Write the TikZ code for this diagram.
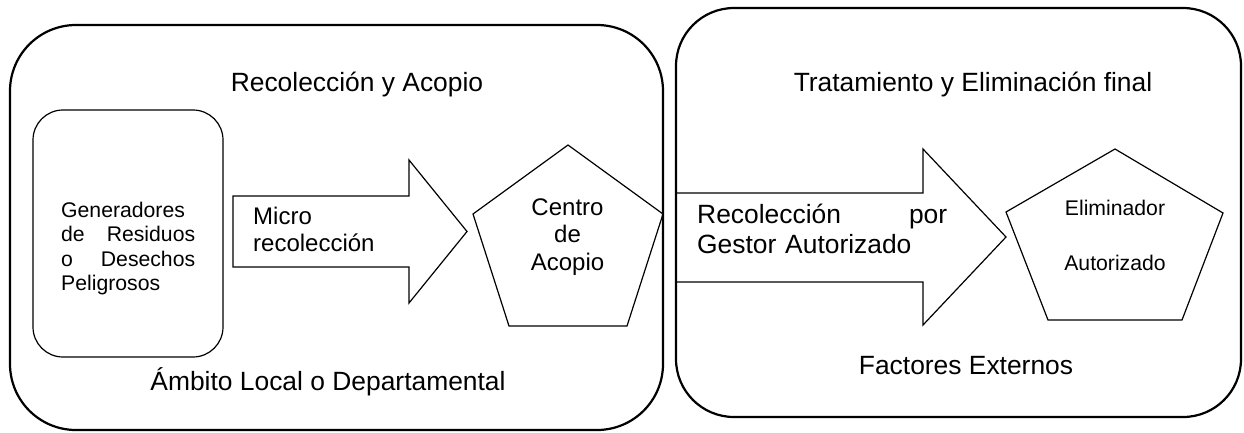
\documentclass[tikz,border=0pt]{standalone}
\usepackage{fontspec}
\setmainfont{Liberation Sans}
\begin{document}
\begin{tikzpicture}[x=1pt,y=-1pt,
  outerbox/.style={draw, line width=2.2pt, inner sep=0pt, outer sep=0pt},
  shapeline/.style={draw, line width=1.2pt, line join=miter},
  bigtxt/.style={inner sep=0pt, anchor=base, font=\fontsize{26.4}{30}\selectfont},
  midtxt/.style={inner sep=0pt, font=\fontsize{24}{27.5}\selectfont},
  smalltxt/.style={inner sep=0pt, font=\fontsize{21.2}{24.5}\selectfont}]
\useasboundingbox (0,0) rectangle (1244,432);
% outer containers
\node[outerbox, rounded corners=66pt, minimum width=653pt, minimum height=405pt] (left) at (336.5,227.5) {};
\node[outerbox, rounded corners=58pt, minimum width=565pt, minimum height=409pt] (right) at (958.5,212.5) {};
% generators box
\node[draw, line width=1.2pt, rounded corners=30pt, minimum width=190pt, minimum height=247pt, inner sep=0pt] (gen) at (128,233.5) {};
% block arrow 1
\draw[shapeline] (233,196) -- (409,196) -- (409,160) -- (467,231.5) -- (409,303) -- (409,267) -- (233,267) -- cycle;
% pentagon 1
\draw[shapeline] (568,145) -- (663,214) -- (627,326) -- (509,326) -- (473,214) -- cycle;
% block arrow 2
\draw[shapeline] (676,193) -- (923,193) -- (923,149) -- (1006,237) -- (923,325) -- (923,282) -- (676,282) -- cycle;
% pentagon 2
\draw[shapeline] (1115,149) -- (1223,213) -- (1182,320) -- (1048,320) -- (1006,212) -- cycle;
% texts
\node[bigtxt] (t1) at (357,91) {Recolección y Acopio};
\node[bigtxt] (t2) at (328,390) {Ámbito Local o Departamental};
\node[bigtxt] (t3) at (973,91) {Tratamiento y Eliminación final};
\node[bigtxt] (t4) at (966,374) {Factores Externos};
\node[smalltxt, anchor=base west, text width=134pt, align=left] (gentxt) at (61,217)
  {Generadores\\de\hspace{\fill}Residuos\\o\hspace{\fill}Desechos\\Peligrosos};
\node[midtxt, font=\fontsize{24}{27}\selectfont, anchor=base west, text width=150pt, align=left] (micro) at (253,224)
  {Micro\\recolección};
\node[midtxt, anchor=base, text width=110pt, align=center] (centro) at (567.5,215)
  {Centro\\de\\Acopio};
\node[bigtxt, anchor=base west, text width=250pt, align=left] (gestor) at (697,223)
  {Recolección\hspace{\fill}por\\Gestor Autorizado};
\node[smalltxt, font=\fontsize{21.2}{55}\selectfont, anchor=base, text width=130pt, align=center] (elim) at (1115,215)
  {Eliminador\\Autorizado};
\end{tikzpicture}
\end{document}
